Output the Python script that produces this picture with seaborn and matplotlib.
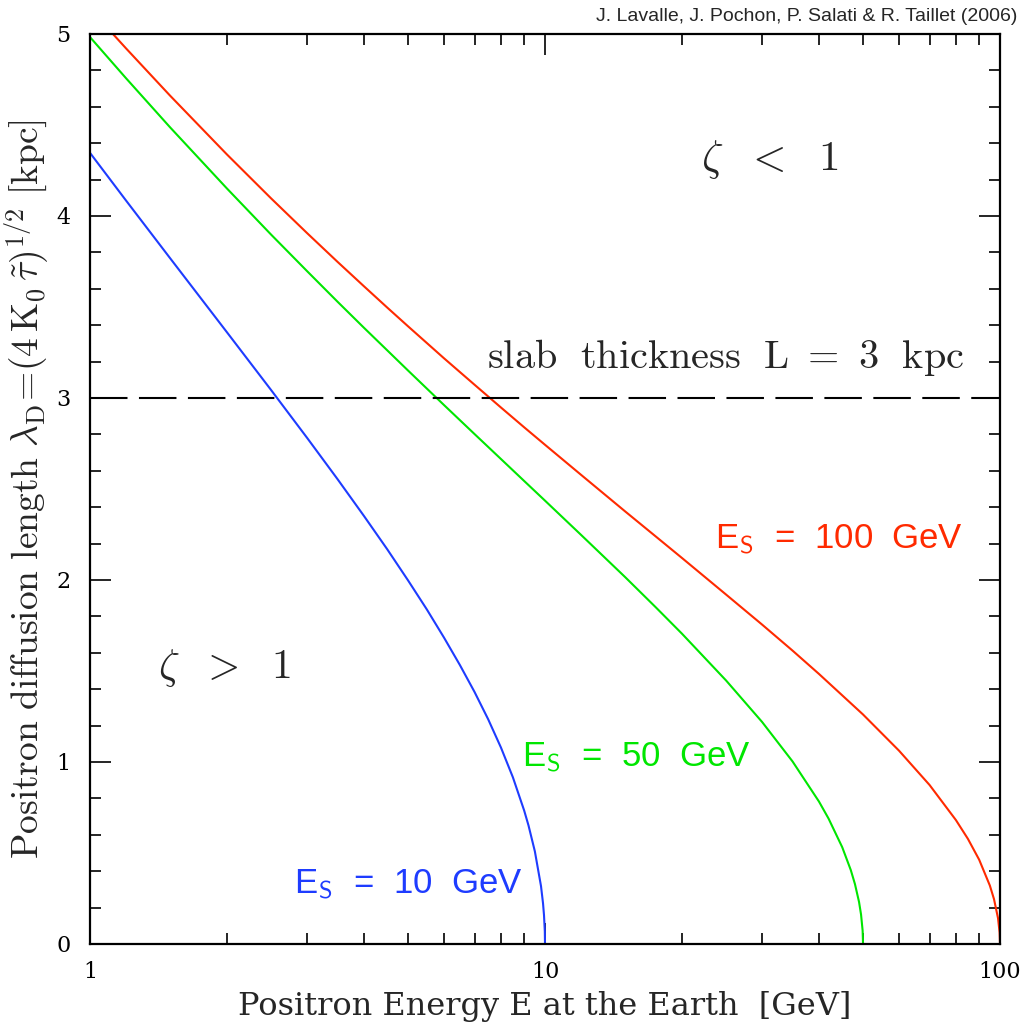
import numpy as np
import pandas as pd
import matplotlib
matplotlib.use("Agg")
import matplotlib.pyplot as plt
import seaborn as sns
from matplotlib.ticker import FixedLocator, NullFormatter, FixedFormatter

# ---- data ----
blue_E = [1, 1.2, 1.5, 2, 2.5, 3, 3.5, 4, 4.5, 5, 5.5, 6, 6.5, 7, 7.5, 8, 8.5, 9, 9.2, 9.5, 9.8, 9.9, 9.95, 9.99, 10]
blue_L = [4.347, 4.085, 3.768, 3.361, 3.044, 2.781, 2.554, 2.352, 2.169, 1.998, 1.838, 1.683, 1.533, 1.385,
          1.235, 1.080, 0.916, 0.733, 0.651, 0.509, 0.318, 0.224, 0.158, 0.071, 0.0]

green_E = [1, 1.2, 1.5, 2, 2.5, 3, 3.5, 4, 4.5, 5, 6, 7, 8, 9, 10, 12, 15, 17.5, 20, 25, 30, 35, 40, 42, 45,
           47, 48, 49, 49.5, 49.9, 50]
green_L = [4.983, 4.757, 4.487, 4.151, 3.898, 3.697, 3.529, 3.386, 3.262, 3.151, 2.961, 2.802, 2.665, 2.544,
           2.436, 2.248, 2.016, 1.851, 1.705, 1.448, 1.220, 1.003, 0.783, 0.689, 0.532, 0.406, 0.329, 0.231,
           0.162, 0.073, 0.0]

red_E = [1.125, 1.2, 1.5, 2, 2.5, 3, 3.5, 4, 4.5, 5, 6, 7, 8, 9, 10, 12, 15, 17.5, 20, 25, 30, 35, 40, 50, 60,
         70, 80, 85, 90, 95, 97, 99, 99.8, 100]
red_L = [4.998, 4.921, 4.661, 4.338, 4.097, 3.906, 3.748, 3.614, 3.497, 3.394, 3.218, 3.073, 2.948, 2.839,
         2.743, 2.578, 2.377, 2.240, 2.121, 1.920, 1.755, 1.612, 1.484, 1.261, 1.062, 0.874, 0.681, 0.578,
         0.463, 0.321, 0.247, 0.142, 0.063, 0.0]

series_names = ["10 GeV", "50 GeV", "100 GeV"]
series_colors = ["#1e3cff", "#00e600", "#ff2a00"]
slab_L = 3.0
x_ticks = [1, 10, 100]
x_ticklabels = ["1", "10", "100"]
y_ticks = [0, 1, 2, 3, 4, 5]

df = pd.concat([
    pd.DataFrame({"E": blue_E, "lam": blue_L, "Es": series_names[0]}),
    pd.DataFrame({"E": green_E, "lam": green_L, "Es": series_names[1]}),
    pd.DataFrame({"E": red_E, "lam": red_L, "Es": series_names[2]}),
], ignore_index=True)

sns.set_style("ticks")
plt.rcParams["mathtext.fontset"] = "cm"
plt.rcParams["font.family"] = ["DejaVu Sans"]

fig = plt.figure(figsize=(10.24, 10.24), dpi=100)
ax = fig.add_axes([90 / 1024, 80 / 1024, 910 / 1024, 910 / 1024])

sns.lineplot(data=df, x="E", y="lam", hue="Es", hue_order=series_names,
             palette=dict(zip(series_names, series_colors)), estimator=None,
             sort=False, legend=False, linewidth=1.5, ax=ax)

ax.axhline(slab_L, color="black", linewidth=1.5, dashes=(18, 5.5))

ax.set_xscale("log")
ax.set_xlim(1, 100)
ax.set_ylim(0, 5)

ax.xaxis.set_major_locator(FixedLocator(x_ticks))
ax.xaxis.set_major_formatter(FixedFormatter(x_ticklabels))
minors = [m * d for d in (1, 10) for m in range(2, 10)]
ax.xaxis.set_minor_locator(FixedLocator(minors))
ax.xaxis.set_minor_formatter(NullFormatter())
ax.yaxis.set_major_locator(FixedLocator(y_ticks))
ax.yaxis.set_minor_locator(FixedLocator(list(np.arange(0, 5.01, 0.2))))

ax.tick_params(which="both", direction="in", top=True, right=True, width=1.2, colors="black")
ax.tick_params(which="major", length=15, labelsize=16, pad=14)
ax.tick_params(which="minor", length=8)
ax.tick_params(axis="x", which="major", pad=12)
for lab in ax.get_xticklabels() + ax.get_yticklabels():
    lab.set_family("DejaVu Serif")
for s in ax.spines.values():
    s.set_linewidth(1.6)
    s.set_color("black")

ax.set_xlabel("Positron Energy E at the Earth  [GeV]", fontsize=23, family="DejaVu Serif", labelpad=6)
ax.set_ylabel(r"$\mathrm{Positron\ diffusion\ length}\ \lambda_{\rm D}\!=\!(4\,\mathrm{K}_0\,\tilde{\tau})^{1/2}\ [\mathrm{kpc}]$",
              fontsize=27, labelpad=4)

ax.text(0.747, 0.862, r"$\zeta\ \ <\ \ 1$", transform=ax.transAxes, fontsize=31, ha="center", va="center")
ax.text(0.148, 0.303, r"$\zeta\ \ >\ \ 1$", transform=ax.transAxes, fontsize=30, ha="center", va="center")
ax.text(0.698, 0.644, r"$\mathrm{slab\ \ thickness\ \ L\ =\ 3\ \ kpc}$", transform=ax.transAxes,
        fontsize=29, ha="center", va="center")

lab_pos = [(0.224, 0.065), (0.475, 0.205), (0.687, 0.444)]
for name, col, (px, py) in zip(series_names, series_colors, lab_pos):
    ax.text(px, py, r"E$_{\mathsf{S}}$  =  " + name.replace(" ", "  "), transform=ax.transAxes,
            fontsize=25, color=col, ha="left", va="center", family="Liberation Sans")

fig.text(0.994, 0.984, "J. Lavalle, J. Pochon, P. Salati & R. Taillet (2006)", ha="right", va="center",
         fontsize=14, family="Liberation Sans")

fig.savefig("out.png", dpi=100, facecolor="white")
